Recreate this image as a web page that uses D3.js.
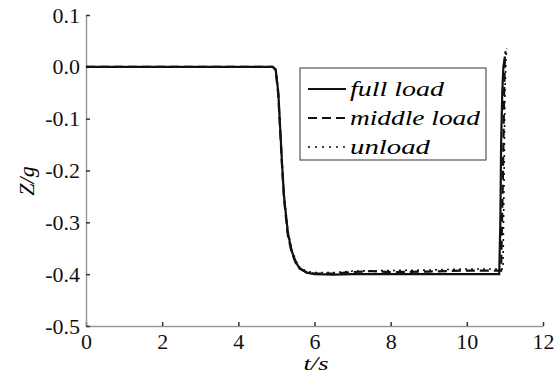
<!DOCTYPE html>
<html>
<head>
<meta charset="utf-8">
<script src="https://cdn.jsdelivr.net/npm/d3@7"></script>
</head>
<body style="margin:0">
<svg id="chart" width="559" height="374"></svg>
<script>
// time stamps (s) and Z/g values
const fullT   = [0, 4.9, 4.98, 5.05, 5.1, 5.15, 5.2, 5.3, 5.4, 5.5, 5.6, 5.8, 6.0, 6.5, 7, 8, 9, 10, 10.85, 10.88, 10.9, 10.93, 10.96, 11.0];
const fullV   = [0, 0, -0.005, -0.05, -0.12, -0.19, -0.25, -0.32, -0.355, -0.375, -0.388, -0.397, -0.400, -0.401, -0.400, -0.400, -0.400, -0.400, -0.400, -0.30, -0.15, -0.05, 0.0, 0.02];
const midT    = [0, 4.9, 4.98, 5.05, 5.1, 5.15, 5.2, 5.3, 5.4, 5.5, 5.6, 5.8, 6.0, 6.5, 7, 7.5, 8, 9, 10, 10.9, 10.95, 10.98, 11.0, 11.02];
const midV    = [0, 0, -0.006, -0.055, -0.125, -0.195, -0.255, -0.325, -0.358, -0.377, -0.389, -0.397, -0.399, -0.399, -0.396, -0.394, -0.396, -0.395, -0.393, -0.393, -0.2, -0.05, 0.02, 0.03];
const unT     = [0, 4.9, 4.98, 5.05, 5.1, 5.15, 5.2, 5.3, 5.4, 5.5, 5.6, 5.8, 6.0, 6.5, 7, 8, 9, 10, 10.95, 10.98, 11.0, 11.03, 11.05];
const unV     = [0, 0, -0.004, -0.045, -0.115, -0.185, -0.245, -0.315, -0.352, -0.372, -0.386, -0.395, -0.397, -0.397, -0.394, -0.393, -0.392, -0.390, -0.390, -0.2, -0.05, 0.02, 0.035];

const xTicks = [0, 2, 4, 6, 8, 10, 12];
const yTicks = [0.1, 0.0, -0.1, -0.2, -0.3, -0.4, -0.5];
const legendLabels = ["full load", "middle load", "unload"];

const serif = "Liberation Serif";
const svg = d3.select("#chart");
const axisColor = "#9a9a9a";

const x = d3.scaleLinear().domain([0, 12]).range([86, 543]);
const y = d3.scaleLinear().domain([-0.5, 0.1]).range([326, 15]);

// plain hyphen instead of the unicode minus d3 uses
const fmtY = d => d3.format(".1f")(d).replace("\u2212", "-");

// axes (ticks point inward, no box)
const xAxis = svg.append("g").attr("transform", `translate(0,${y(-0.5)})`)
    .call(d3.axisBottom(x).tickValues(xTicks).tickSizeInner(-4).tickSizeOuter(0).tickPadding(7)
        .tickFormat(d3.format("d")));
const yAxis = svg.append("g").attr("transform", `translate(${x(0)},0)`)
    .call(d3.axisLeft(y).tickValues(yTicks).tickSizeInner(-4).tickSizeOuter(0).tickPadding(6)
        .tickFormat(fmtY));

[xAxis, yAxis].forEach(a => {
    a.attr("font-family", serif).attr("font-size", 22);
    a.select(".domain").attr("stroke", axisColor).attr("stroke-width", 1.5);
    a.selectAll(".tick line").attr("stroke", "#333").attr("stroke-width", 1.5);
    a.selectAll("text").attr("fill", "#111").attr("font-size", 22);
});
xAxis.selectAll("text").attr("dy", "0.71em");
yAxis.selectAll("text").attr("dy", "0.32em");

// axis labels
svg.append("text")
    .attr("x", 316).attr("y", 370)
    .attr("text-anchor", "middle")
    .attr("font-size", 18).attr("font-style", "italic")
    .attr("textLength", 25).attr("lengthAdjust", "spacingAndGlyphs")
    .text("t/s");

svg.append("text")
    .attr("transform", "translate(34,181) rotate(-90)")
    .attr("text-anchor", "middle")
    .attr("font-size", 22).attr("font-style", "italic")
    .text("Z/g");

// series lines
const line = d3.line().x(d => x(d[0])).y(d => y(d[1]));
const series = [
    { t: unT, v: unV, dash: "2,4", w: 1.6 },
    { t: midT, v: midV, dash: "9,5", w: 2.2 },
    { t: fullT, v: fullV, dash: null, w: 2.2 }
];
series.forEach(s => {
    svg.append("path")
        .datum(d3.zip(s.t, s.v))
        .attr("d", line)
        .attr("fill", "none")
        .attr("stroke", "#111")
        .attr("stroke-width", s.w)
        .attr("stroke-dasharray", s.dash);
});

// legend
const legend = svg.append("g").attr("transform", "translate(300,68)");
legend.append("rect")
    .attr("width", 186).attr("height", 92)
    .attr("fill", "#fff").attr("stroke", "#555").attr("stroke-width", 1.2);

const legendStyles = [
    { dash: null, w: 2, len: 94 },
    { dash: "9,5", w: 2.2, len: 130 },
    { dash: "2,5", w: 1.5, len: 80 }
];
legendLabels.forEach((lab, i) => {
    const row = legend.append("g").attr("transform", `translate(0,${21 + i * 29})`);
    row.append("line")
        .attr("x1", 8).attr("x2", 46)
        .attr("stroke", "#111")
        .attr("stroke-width", legendStyles[i].w)
        .attr("stroke-dasharray", legendStyles[i].dash);
    row.append("text")
        .attr("x", 50).attr("dy", "0.35em")
        .attr("font-size", 21).attr("font-style", "italic")
        .attr("textLength", legendStyles[i].len).attr("lengthAdjust", "spacingAndGlyphs")
        .text(lab);
});

// family set on every text node, both as attribute and inline style
svg.selectAll("text").attr("font-family", serif).style("font-family", serif);
</script>
</body>
</html>
